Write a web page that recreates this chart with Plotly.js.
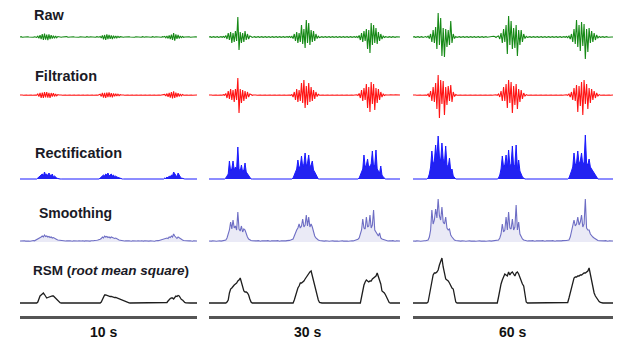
<!DOCTYPE html>
<html><head><meta charset="utf-8">
<script src="https://cdn.plot.ly/plotly-3.0.1.min.js"></script>
<style>html,body{margin:0;padding:0;background:#fff}#chart{width:617px;height:340px}</style>
</head><body><div id="chart"></div>
<script>
const columnLabels = ['10 s', '30 s', '60 s'];
const rowLabels = ['Raw', 'Filtration', 'Rectification', 'Smoothing', 'RSM (<i>root mean square</i>)'];

// ---- 10 s ----
const raw10 = [0,0.3,-0.2,0,0.2,-0.3,0,0.2,0,-0.2,0.3,0,-0.2,0.2,0,-0.3,
 0.8,-1.2,1.8,-2.2,2.8,-3,3.4,-2.6,2.4,-3.2,2.6,-2,1.8,-1.6,1.4,-1.2,1,-0.8,0.5,
 0,0.3,-0.2,0,0.2,-0.3,0,0.4,-0.2,0,0.2,-0.3,0,0.2,0,-0.2,0.3,0,-0.2,0.2,0,-0.3,0.2,0,-0.2,0.3,0,-0.2,0.2,0,-0.3,0.2,0,-0.2,0.3,0,-0.2,
 0.6,-1,1.6,-2.4,2,-2.8,2.6,-2,2.2,-1.8,1.6,-2,1.4,-1.2,1,-0.9,0.7,-0.5,0.3,
 0,0.3,-0.2,0,0.2,-0.3,0,0.2,0,-0.2,0.3,0,-0.2,0.2,0,-0.3,0.2,0,-0.2,0.3,0,-0.2,0.2,0,-0.3,0.2,0,-0.2,0.3,0,-0.2,0.2,0,-0.3,0.2,0,-0.2,0.3,0,
 0.5,-0.8,1,-1.4,1.6,-2,2.4,-3,4,-3.6,2.6,-1.8,2,-1.4,1,-0.7,0.5,-0.3,
 0,0.2,-0.2,0,0.3,-0.2,0,0.2,-0.3,0,0.2,0];
const filt10 = [0,0.2,0,-0.2,0,0.2,0,-0.2,0,0.2,0,-0.2,0,0.2,0,-0.2,
 1,-1.6,2.2,-2.8,2.4,-3,2.8,-2.4,3,-2.6,2.2,-2.8,2,-1.6,1.8,-1.4,1,-0.8,0.4,
 0,0.2,0,-0.2,0,0.2,0,-0.2,0,0.2,0,-0.2,0,0.2,0,-0.2,0,0.2,0,-0.2,0,0.2,0,-0.2,0,0.2,0,-0.2,0,0.2,0,-0.2,0,0.2,0,-0.2,0,
 0.8,-1.4,2,-2.6,2.2,-3,2.4,-2,2.6,-2.2,1.8,-2.4,1.6,-1.4,1.2,-1,0.8,-0.6,0.3,
 0,0.2,0,-0.2,0,0.2,0,-0.2,0,0.2,0,-0.2,0,0.2,0,-0.2,0,0.2,0,-0.2,0,0.2,0,-0.2,0,0.2,0,-0.2,0,0.2,0,-0.2,0,0.2,0,-0.2,0,0.2,0,
 0.6,-1,1.4,-1.8,2.2,-2.6,3,-3.4,3.6,-3,2.4,-2,1.8,-1.4,1,-0.8,0.5,-0.3,
 0,0.2,0,-0.2,0,0.2,0,-0.2,0,0.2,0,0];
const rect10 = [0,0,0,0,0,0,0,0,0,0,0,0,0,0,0,0,
 1,2,3,4,5,3,7,4,5,3,6,4,3,5,2,3,1.5,1,0.5,
 0,0,0,0,0,0,0,0,0,0,0,0,0,0,0,0,0,0,0,0,0,0,0,0,0,0,0,0,0,0,0,0,0,0,0,0,0,
 1,2,3,4,3,5,4,6,3,4,5,3,4,2,3,2,1.5,1,0.5,
 0,0,0,0,0,0,0,0,0,0,0,0,0,0,0,0,0,0,0,0,0,0,0,0,0,0,0,0,0,0,0,0,0,0,0,0,0,0,0,
 1,0.5,2,1,3,2,4,3,7,5,3,2,6,3,2,1,0.5,0,
 0,0,0,0,0,0,0,0,0,0,0,0];
const smooth10 = [1,1.2,0.8,1,1.3,0.9,1,1.4,1,0.8,1.2,1,1.5,1.2,1.8,2,
 2.5,3,4,5,6,5,7,5.5,6,5,5.5,4.5,5,4,4.5,3.5,3,2.5,2,
 1.8,1.5,1.2,1,1.3,0.8,1,1.2,0.9,1.1,1.3,1,0.8,1.2,1,1.4,0.9,1,1.2,0.8,1,1.3,1,0.9,1.2,1,1.4,1.1,0.9,1.2,1,1.3,1.5,1.4,1.8,2,2.2,
 2.8,3.5,5,4,6,5,5.5,4.5,5,4,5,4.5,4,3.5,4,3,2.5,2,1.8,
 1.5,1.3,1.1,1,1.2,0.9,1.1,1.3,1,0.8,1.2,1,1.4,0.9,1,1.2,0.8,1,1.3,1,0.9,1.2,1,1.4,1.1,0.9,1.2,1,1.3,1,0.8,1.2,1,1.4,1.5,1.8,2,2.2,2.5,
 3,3.5,4,3.5,5,4.5,6,5,8,6,4,3.5,5,4,3,2.5,2,1.5,
 1.3,1,1.2,0.9,1.1,1.3,1,0.8,1.2,1,1.1,1];
const rms10 = [0,0,0,0,0,0,0,0,0,0,0,0,0,0,0,0,
 1,5,7,8,9,10,8.5,7,5,5.5,6,6,6.5,7,7,6,4,3,2,
 1,0.3,0,0,0,0,0,0,0,0,0,0,0,0,0,0,0,0,0,0,0,0,0,0,0,0,0,0,0,0,0,0,0,0,0,0,0,
 0,1,4,7,8,8,7.5,7.5,7,6.5,6.5,6,6,5.5,5.5,5,5,4.5,4,
 3.5,3,2.5,2,1.5,1,0.5,0.2,0,0,0,0,0,0,0,0,0,0,0,0,0,0,0,0,0,0,0,0,0,0,0,0,0,0,0,0,0,0,0,
 0,0,0.5,2,4,4.5,5,5,4,6,7,6.5,7.5,7,5,3.5,3,1.5,
 0.5,0.2,0,0,0,0,0,0,0,0,0,0];

// ---- 30 s ----
const raw30 = [0,0.3,-0.3,0,0.4,-0.3,0,0.3,-0.4,0,0.3,-0.3,0.5,-0.5,
 1.5,-2,4,-3,5,-6,4,-5,6,-4,20,-13,5,-6,4,-5,6,-3,3,-2,1,
 0.5,-0.4,0,0.3,-0.3,0,0.4,-0.3,0,0.3,-0.3,0,0.4,-0.3,0,0.3,-0.4,0,0.3,-0.3,0,0.4,-0.3,0,0.3,-0.3,0,0.4,-0.3,0,0.3,-0.3,0.5,-0.5,0.6,
 -1.5,3,-4,5,-6,4,-5,12,-7,8,-11,17,-6,14,-8,7,-5,6,-4,3,-1.5,
 0.8,-0.5,0,0.3,-0.3,0,0.4,-0.3,0,0.3,-0.3,0,0.4,-0.3,0,0.3,-0.4,0,0.3,-0.3,0,0.4,-0.3,0,0.3,-0.3,0,0.4,-0.3,0,0.3,-0.4,0.5,-0.6,
 1.5,-3,4,-5,6,-4,8,-12,7,-16,14,-8,12,-6,9,-7,5,-4,3,-2,1,
 -0.5,0.3,0,-0.3,0.3,0,-0.3,0.4,0,-0.3,0.3,0,-0.3,0];
const filt30 = [0,0.2,0,-0.2,0,0.2,0,-0.2,0,0.2,0,-0.2,0.3,-0.3,
 1.5,-3,4,-4,6,-5,5,-7,6,-5,17,-18,6,-8,5,-6,4,-4,3,-2,1,
 0.5,-0.3,0,0.2,0,-0.2,0,0.2,0,-0.2,0,0.2,0,-0.2,0,0.2,0,-0.2,0,0.2,0,-0.2,0,0.2,0,-0.2,0,0.2,0,-0.2,0,0.2,0,-0.3,0.4,
 -2,3,-5,6,-7,5,-6,12,-8,15,-13,9,-10,12,-7,8,-6,5,-4,3,-1.5,
 0.6,-0.3,0,0.2,0,-0.2,0,0.2,0,-0.2,0,0.2,0,-0.2,0,0.2,0,-0.2,0,0.2,0,-0.2,0,0.2,0,-0.2,0,0.2,0,-0.2,0,0.2,0.3,-0.4,
 1.5,-3,5,-6,7,-5,11,-13,8,-17,13,-9,11,-15,7,-8,6,-5,3,-2,1,
 -0.5,0.2,0,-0.2,0,0.2,0,-0.2,0,0.2,0,-0.2,0,0];
const rect30 = [0,0,0,0,0,0,0,0,0,0,0,0,0,0,
 1,3,5,18,8,10,18,9,12,10,32,10,8,14,7,9,16,7,5,3,1,
 0,0,0,0,0,0,0,0,0,0,0,0,0,0,0,0,0,0,0,0,0,0,0,0,0,0,0,0,0,0,0,0,0,0,0,
 1,4,8,10,19,11,13,23,12,15,26,13,16,24,12,14,18,9,7,4,1.5,
 0,0,0,0,0,0,0,0,0,0,0,0,0,0,0,0,0,0,0,0,0,0,0,0,0,0,0,0,0,0,0,0,0,0,
 1,4,8,10,24,12,14,20,11,13,15,28,12,14,29,10,8,6,13,4,2,
 1,0,0,0,0,0,0,0,0,0,0,0,0,0];
const smooth30 = [1,1.3,0.9,1.1,1.4,1,0.8,1.2,1,1.3,0.9,1.1,1.4,1.6,
 2,4,7,12,20,13,22,14,16,12,30,13,11,16,10,13,12,8,5,3,2,
 1.5,1.2,1,1.3,0.9,1.1,1.4,1,0.8,1.2,1,1.3,0.9,1.1,1.4,1,0.8,1.2,1,1.3,0.9,1.1,1.4,1,0.8,1.2,1,1.3,0.9,1.1,1.4,1.2,1.6,2,2.5,
 3,6,10,12,14,18,14,16,23,15,17,27,16,25,15,18,15,10,6,4,2.5,
 2,1.5,1.2,1,1.3,0.9,1.1,1.4,1,0.8,1.2,1,1.3,0.9,1.1,1.4,1,0.8,1.2,1,1.3,0.9,1.1,1.4,1,0.8,1.2,1,1.3,1.1,1.4,1.8,2.2,2.8,
 4,8,12,23,14,13,25,15,16,27,14,17,32,12,10,8,6,9,4,3,2.5,
 2,1.5,1.2,1,1.3,0.9,1.1,1.4,1,0.8,1.2,1,1.3,1];
const rms30 = [0,0,0,0,0,0,0,0,0,0,0,0,0,0,
 0,1,3,10,14,15,17,18,19,20,22,23,25,20,14,12,11,11,10,8,4,
 1,0,0,0,0,0,0,0,0,0,0,0,0,0,0,0,0,0,0,0,0,0,0,0,0,0,0,0,0,0,0,0,0,0,0,
 0,3,7,12,15,17,20,20,21,22,24,26,27,29,31,32,27,22,19,14,8,
 3,0.5,0,0,0,0,0,0,0,0,0,0,0,0,0,0,0,0,0,0,0,0,0,0,0,0,0,0,0,0,0,0,0,0,
 0,0,6,13,18,21,23,22,21,22,22,24,25,26,27,30,26,22,19,12,11,
 10,8,5,2,0.5,0,0,0,0,0,0,0,0,0];

// ---- 60 s ----
const raw60 = [0,0.3,-0.3,0,0.4,-0.3,0,0.3,-0.4,0,0.4,-0.4,
 0.8,-1.5,3,-5,7,-6,10,-12,24,-8,19,-19,9,-20,8,-10,7,-8,16,-6,3,-1.5,
 0.5,-0.4,0,0.3,-0.3,0,0.4,-0.3,0,0.3,-0.3,0,0.4,-0.3,0,0.3,-0.4,0,0.3,-0.3,0,0.4,-0.3,0,0.3,-0.3,0,0.4,0.6,0.8,0.7,0.5,-0.5,0.6,
 1,-2,4,-6,8,-5,12,-17,21,-8,16,-12,9,-11,12,-19,7,-8,7,-5,3,-1.5,
 0.6,-0.4,0,0.3,-0.3,0,0.4,-0.3,0,0.3,-0.3,0,0.4,-0.3,0,0.3,-0.4,0,0.3,-0.3,0,0.4,-0.3,0,0.3,-0.3,0,0.4,-0.3,0,0.3,-0.3,0.5,-0.6,
 1,-2,3,-5,8,-7,17,-10,12,-14,15,-9,13,-22,8,-15,9,-6,6,-5,4,-3,2,-1,
 0.5,-0.3,0,0.3,-0.3,0,0.3,-0.3,0,0.3,0,0];
const filt60 = [0,0.2,0,-0.2,0,0.2,0,-0.2,0,0.2,0,-0.3,
 1,-2,4,-6,8,-7,12,-14,20,-23,15,-9,14,-20,8,-10,9,-6,10,-7,3,-1.5,
 0.4,-0.3,0,0.2,0,-0.2,0,0.2,0,-0.2,0,0.2,0,-0.2,0,0.2,0,-0.2,0,0.2,0,-0.2,0,0.2,0,-0.2,0,0.2,0,-0.2,0,0.2,0.3,-0.4,
 1,-2,4,-6,8,-6,11,-13,15,-8,13,-18,9,-10,11,-14,6,-7,5,-4,2,-1,
 0.4,-0.3,0,0.2,0,-0.2,0,0.2,0,-0.2,0,0.2,0,-0.2,0,0.2,0,-0.2,0,0.2,0,-0.2,0,0.2,0,-0.2,0,0.2,0,-0.2,0,0.2,0.3,-0.4,
 1,-2,3,-5,7,-6,10,-17,9,-11,13,-20,15,-9,11,-14,7,-8,6,-5,4,-3,2,-1,
 0.4,-0.2,0,0.2,0,-0.2,0,0.2,0,-0.2,0,0];
const rect60 = [0,0,0,0,0,0,0,0,0,0,0,0,
 1,5,12,28,15,18,34,20,43,22,18,36,20,16,33,14,12,21,8,10,3,1,
 0,0,0,0,0,0,0,0,0,0,0,0,0,0,0,0,0,0,0,0,0,0,0,0,0,0,0,0,0,0,0,0,0,0,
 1,4,10,23,12,14,24,11,29,13,15,33,12,14,34,10,19,8,5,2,1,0,
 0,0,0,0,0,0,0,0,0,0,0,0,0,0,0,0,0,0,0,0,0,0,0,0,0,0,0,0,0,0,0,0,0,0,
 1,4,8,12,26,14,16,28,15,18,26,14,17,44,16,14,20,12,10,8,6,3,1,0,
 0,0,0,0,0,0,0,0,0,0,0,0];
const smooth60 = [1,1.3,0.9,1.1,1.4,1,0.8,1.2,1,1.3,1.2,1.5,
 2,5,12,32,18,22,33,24,43,26,22,35,20,18,25,14,12,13,7,5,3,2,
 1.5,1.2,1,1.3,0.9,1.1,1.4,1,0.8,1.2,1,1.3,0.9,1.1,1.4,1,0.8,1.2,1,1.3,0.9,1.1,1.4,1,0.8,1.2,1,1.3,0.9,1.1,1.3,1.2,1.5,1.8,
 2,4,8,18,10,12,25,12,30,14,13,23,12,15,37,12,20,8,5,3,2,1.5,
 1.2,1,1.3,0.9,1.1,1.4,1,0.8,1.2,1,1.3,0.9,1.1,1.4,1,0.8,1.2,1,1.3,0.9,1.1,1.4,1,0.8,1.2,1,1.3,0.9,1.1,1.4,1.2,1.3,1.5,1.8,
 2,5,10,15,22,16,18,25,17,20,27,15,18,43,14,12,12,8,6,5,4,3,2,1.5,
 1.2,1,1.3,0.9,1.1,1.4,1,0.8,1.2,1,1.1,1];
const rms60 = [0,0,0,0,0,0,0,0,0,0,0,0,
 1,8,18,25,28,30,30,31,33,38,42,45,36,30,24,23,22,20,17,15,14,5,
 1,0,0,0,0,0,0,0,0,0,0,0,0,0,0,0,0,0,0,0,0,0,0,0,0,0,0,0,0,0,0,0,0,0,
 6,14,19,23,26,29,28,27,31,28,30,31,29,27,30,31,29,25,21,19,17,8,
 1,0,0,0,0,0,0,0,0,0,0,0,0,0,0,0,0,0,0,0,0,0,0,0,0,0,0,0,0,0,0,0,0,0.5,
 5,10,15,20,25,26,26,27,27,28,28,29,30,30,31,32,35,28,20,17,10,7,5,3,
 1.5,0.5,0,0,0,0,0,0,0,0,0,0];

const rows = [
  [raw10, raw30, raw60],
  [filt10, filt30, filt60],
  [rect10, rect30, rect60],
  [smooth10, smooth30, smooth60],
  [rms10, rms30, rms60]
];

const W = 617, H = 340;
const px = v => v / W, py = v => 1 - v / H;

const rowStyle = [
  {line: {color: '#178a17', width: 1.1}},
  {line: {color: '#ff1414', width: 1.1}},
  {line: {color: '#1a1aff', width: 1}, fill: 'tozeroy', fillcolor: 'rgba(10,10,240,0.9)'},
  {line: {color: '#6e6ec4', width: 1.1}, fill: 'tozeroy', fillcolor: 'rgba(150,150,210,0.2)'},
  {line: {color: '#1e1e1e', width: 1.3}}
];

const traces = [];
rows.forEach((cols, r) => {
  cols.forEach((vals, c) => {
    traces.push(Object.assign({
      y: vals, type: 'scatter', mode: 'lines', hoverinfo: 'skip', showlegend: false,
      xaxis: 'x' + (c === 0 ? '' : c + 1),
      yaxis: 'y' + (r === 0 ? '' : r + 1)
    }, JSON.parse(JSON.stringify(rowStyle[r]))));
  });
});

const colPx = [[20, 197], [209, 400], [413, 613]];
const rowPx = [[7, 67, [-30, 30]], [65, 125, [-30, 30]], [130, 185, [-6, 49]], [192, 248, [-6, 50]], [252, 316, [-13, 51]]];

const layout = {
  width: W, height: H, margin: {l: 0, r: 0, t: 0, b: 0},
  paper_bgcolor: '#fff', plot_bgcolor: 'rgba(0,0,0,0)',
  font: {family: 'Liberation Sans, Arial, sans-serif', color: '#1a1a26'},
  annotations: []
};
colPx.forEach((d, c) => {
  layout['xaxis' + (c === 0 ? '' : c + 1)] = {
    domain: [px(d[0]), px(d[1])], range: [0, 159], anchor: 'y5',
    showline: true, linecolor: '#555', linewidth: 2.5,
    showticklabels: false, ticks: '', showgrid: false, zeroline: false, fixedrange: true
  };
});
rowPx.forEach((d, r) => {
  layout['yaxis' + (r === 0 ? '' : r + 1)] = {
    domain: [py(d[1]), py(d[0])], range: d[2], anchor: 'x',
    showline: false, showticklabels: false, ticks: '', showgrid: false, zeroline: false, fixedrange: true
  };
});

const titlePos = [[32, 15, 14.5], [33, 76, 14.5], [33, 153, 14.5], [37, 213, 14], [31, 270, 13.5]];
rowLabels.forEach((t, i) => {
  layout.annotations.push({
    text: '<b>' + t + '</b>', xref: 'paper', yref: 'paper',
    x: px(titlePos[i][0]), y: py(titlePos[i][1]), xanchor: 'left', yanchor: 'middle',
    showarrow: false, font: {size: titlePos[i][2], color: '#1a1a26'}
  });
});
const labelX = [103, 307, 512];
columnLabels.forEach((t, i) => {
  layout.annotations.push({
    text: '<b>' + t + '</b>', xref: 'paper', yref: 'paper',
    x: px(labelX[i]), y: py(332), xanchor: 'center', yanchor: 'middle',
    showarrow: false, font: {size: 14, color: '#111'}
  });
});

Plotly.newPlot('chart', traces, layout, {displayModeBar: false, staticPlot: true});
</script>
</body></html>
